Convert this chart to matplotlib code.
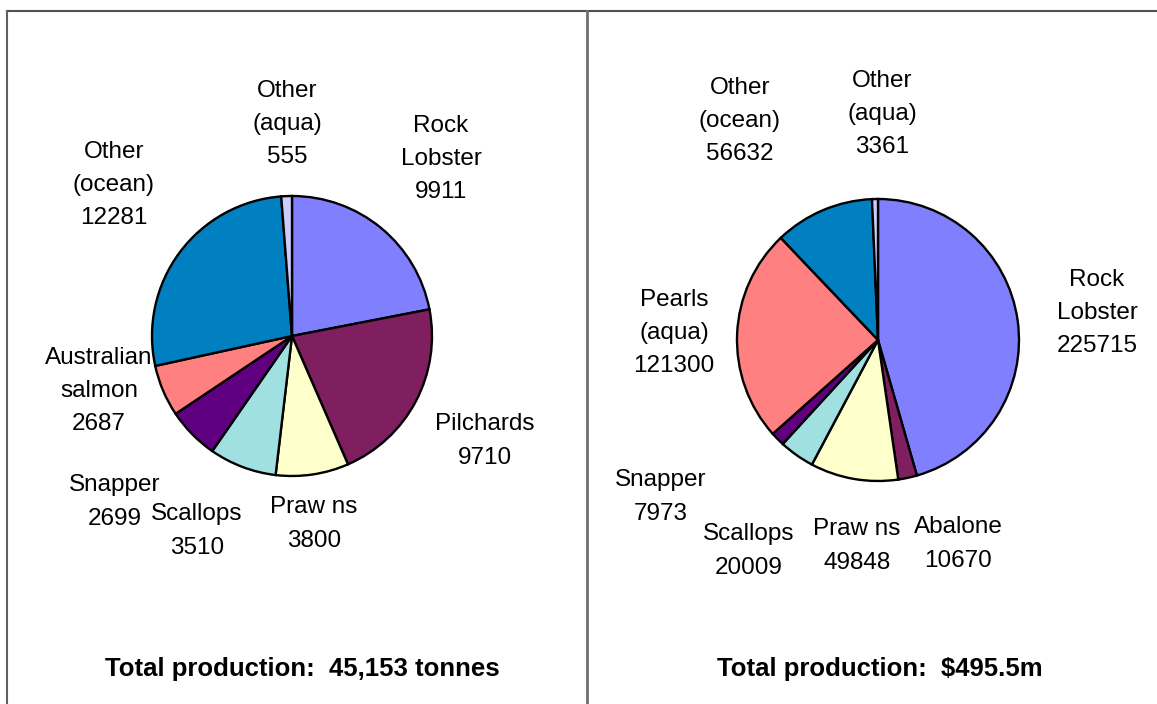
import matplotlib.pyplot as plt

plt.rcParams["font.family"] = ["Liberation Sans", "DejaVu Sans"]

# production by species, in tonnes (left) and $'000 (right)
tonnes_labels = ["Rock\nLobster", "Pilchards", "Praw ns", "Scallops", "Snapper",
                 "Australian\nsalmon", "Other\n(ocean)", "Other\n(aqua)"]
tonnes = [9911, 9710, 3800, 3510, 2699, 2687, 12281, 555]
tonnes_colors = ["#8080FF", "#7F1F5F", "#FFFFCC", "#A0E0E0", "#600080",
                 "#FF8080", "#0080C0", "#CCCCFF"]

value_labels = ["Rock\nLobster", "Abalone", "Praw ns", "Scallops", "Snapper",
                "Pearls\n(aqua)", "Other\n(ocean)", "Other\n(aqua)"]
value = [225715, 10670, 49848, 20009, 7973, 121300, 56632, 3361]
value_colors = ["#8080FF", "#7F1F5F", "#FFFFCC", "#A0E0E0", "#600080",
                "#FF8080", "#0080C0", "#CCCCFF"]

titles = ["Total production:  45,153 tonnes", "Total production:  $495.5m"]

# layout in pixels (y measured from the top)
W, H = 1157, 704
pies = [
    dict(center=(292, 336), radius=140,
         label_pos=[(441, 159), (485, 441), (314, 524), (197, 531), (115, 502),
                    (99, 391), (114, 185), (287, 124)],
         title_x=302),
    dict(center=(878, 340), radius=141,
         label_pos=[(1097, 313), (958, 544), (857, 546), (749, 551), (661, 497),
                    (674, 333), (740, 121), (882, 114)],
         title_x=880),
]
datasets = [(tonnes_labels, tonnes, tonnes_colors), (value_labels, value, value_colors)]

fig = plt.figure(figsize=(W / 100, H / 100), dpi=100)
ax = fig.add_axes([0, 0, 1, 1])

for (labels, vals, cols), p, title in zip(datasets, pies, titles):
    cx, cy = p["center"]
    ax.pie(vals, colors=cols, startangle=90, counterclock=False,
           center=(cx, H - cy), radius=p["radius"],
           wedgeprops=dict(edgecolor="black", linewidth=1.7))
    for lab, v, (lx, ly) in zip(labels, vals, p["label_pos"]):
        ax.text(lx, H - ly, f"{lab}\n{v}", ha="center", va="center",
                fontsize=17.5, linespacing=1.65, multialignment="center")
    ax.text(p["title_x"], H - 669, title, ha="center", va="center",
            fontsize=18.5, fontweight="bold")

# frame lines
ax.plot([7, W], [H - 11, H - 11], color="#505050", lw=1.5)
ax.plot([7, 7], [H - 11, 0], color="#606060", lw=1.5)
ax.plot([587, 587], [H - 11, 0], color="#707070", lw=2)

ax.set_xlim(0, W)
ax.set_ylim(0, H)
ax.set_aspect("equal")
ax.axis("off")

fig.savefig("out.png", dpi=100)
